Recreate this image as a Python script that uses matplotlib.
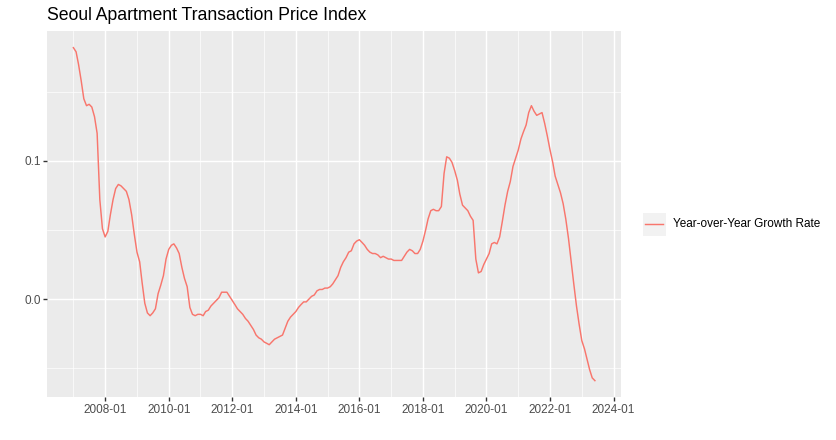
import numpy as np
import pandas as pd
import matplotlib
matplotlib.use('Agg')
import matplotlib.pyplot as plt
import matplotlib.dates as mdates
from matplotlib.patches import Rectangle
from matplotlib.lines import Line2D

plt.rcParams['font.family'] = ['Liberation Sans', 'DejaVu Sans']

# 数据：2007-01 ~ 2023-06 月度同比增长率
start_month = '2007-01-01'
yoy_growth = [
    0.182, 0.179, 0.170, 0.158, 0.145, 0.140, 0.141, 0.139, 0.132, 0.120,
    0.072, 0.051, 0.045, 0.049, 0.061, 0.072, 0.080, 0.083, 0.082, 0.080,
    0.078, 0.072, 0.061, 0.047, 0.034, 0.027, 0.012, -0.003, -0.010, -0.012,
    -0.010, -0.007, 0.004, 0.010, 0.017, 0.029, 0.036, 0.039, 0.040, 0.037,
    0.033, 0.023, 0.015, 0.009, -0.006, -0.011, -0.012, -0.011, -0.011, -0.012,
    -0.009, -0.008, -0.005, -0.003, -0.001, 0.001, 0.005, 0.005, 0.005, 0.002,
    -0.001, -0.004, -0.007, -0.009, -0.011, -0.014, -0.016, -0.019, -0.022, -0.026,
    -0.028, -0.029, -0.031, -0.032, -0.033, -0.031, -0.029, -0.028, -0.027, -0.026,
    -0.021, -0.016, -0.013, -0.011, -0.009, -0.006, -0.004, -0.002, -0.002, 0.000,
    0.002, 0.003, 0.006, 0.007, 0.007, 0.008, 0.008, 0.009, 0.011, 0.014,
    0.017, 0.023, 0.027, 0.030, 0.034, 0.035, 0.040, 0.042, 0.043, 0.041,
    0.039, 0.036, 0.034, 0.033, 0.033, 0.032, 0.030, 0.031, 0.030, 0.029,
    0.029, 0.028, 0.028, 0.028, 0.028, 0.031, 0.034, 0.036, 0.035, 0.033,
    0.033, 0.036, 0.042, 0.050, 0.058, 0.064, 0.065, 0.064, 0.064, 0.067,
    0.091, 0.103, 0.102, 0.099, 0.093, 0.086, 0.076, 0.068, 0.066, 0.064,
    0.060, 0.057, 0.029, 0.019, 0.020, 0.025, 0.029, 0.033, 0.040, 0.041,
    0.040, 0.045, 0.056, 0.068, 0.078, 0.085, 0.096, 0.102, 0.108, 0.116,
    0.121, 0.126, 0.135, 0.140, 0.136, 0.133, 0.134, 0.135, 0.127, 0.118,
    0.108, 0.099, 0.089, 0.083, 0.077, 0.069, 0.058, 0.044, 0.027, 0.011,
    -0.005, -0.018, -0.030, -0.036, -0.043, -0.051, -0.057, -0.059,
]
series_label = 'Year-over-Year Growth Rate'
title = 'Seoul Apartment Transaction Price Index'
y_major = [0.0, 0.1]
y_labels = ['0.0', '0.1']
y_minor = [-0.05, 0.05, 0.15]
major_years = list(range(2008, 2025, 2))
minor_years = list(range(2007, 2024, 2))

dates = pd.date_range(start_month, periods=len(yoy_growth), freq='MS')

W, H = 837, 440
fig = plt.figure(figsize=(W / 100, H / 100), dpi=100)
ax = fig.add_axes([47.3 / W, 1 - 397.3 / H, (621 - 47.3) / W, (397.3 - 31) / H])

ax.set_facecolor('#EBEBEB')
for s in ax.spines.values():
    s.set_visible(False)

ax.plot(dates, yoy_growth, color='#F8766D', linewidth=1.05, zorder=3)

# 坐标范围（ggplot 默认 5% 扩展）
xn = mdates.date2num(dates)
xr = xn[-1] - xn[0]
ax.set_xlim(xn[0] - 0.05 * xr, xn[-1] + 0.05 * xr)
yr = max(yoy_growth) - min(yoy_growth)
ax.set_ylim(min(yoy_growth) - 0.05 * yr, max(yoy_growth) + 0.05 * yr)

ax.set_xticks([pd.Timestamp(f'{y}-01-01') for y in major_years])
ax.set_xticks([pd.Timestamp(f'{y}-01-01') for y in minor_years], minor=True)
ax.xaxis.set_major_formatter(mdates.DateFormatter('%Y-%m'))
ax.set_yticks(y_major)
ax.set_yticklabels(y_labels)
ax.set_yticks(y_minor, minor=True)

ax.grid(which='major', color='white', linewidth=1.05)
ax.grid(which='minor', color='white', linewidth=0.5)
ax.set_axisbelow(True)

ax.tick_params(which='major', length=2.6, width=1.0, color='#333333',
               labelsize=8.45, labelcolor='#4D4D4D', pad=2.2)
ax.tick_params(which='minor', length=0)

fig.text(47.3 / W, 1 - 20 / H, title, fontsize=12.7, color='black',
         ha='left', va='baseline')

# 图例
fig.add_artist(Rectangle((642.7 / W, 1 - 235.7 / H), 23 / W, 23 / H,
                         transform=fig.transFigure, facecolor='#F2F2F2',
                         edgecolor='none'))
fig.add_artist(Line2D([645 / W, 663.5 / W], [1 - 224.2 / H, 1 - 224.2 / H],
                      transform=fig.transFigure, color='#F8766D', linewidth=1.05))
fig.text(673.3 / W, 1 - 224.2 / H, series_label, fontsize=8.45, color='black',
         ha='left', va='center')

fig.savefig('out.png', dpi=100, facecolor='white')
